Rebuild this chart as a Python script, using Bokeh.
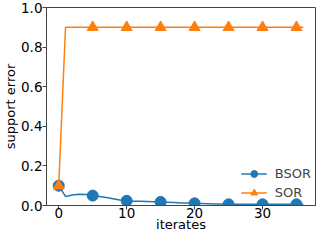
from bokeh.plotting import figure
from bokeh.models import FixedTicker, PrintfTickFormatter, Range1d, Legend, LegendItem
from bokeh.embed import file_html
from bokeh.resources import INLINE

iterates = list(range(37))
bsor = [0.100, 0.046, 0.053, 0.057, 0.055, 0.050, 0.045, 0.040, 0.034, 0.028,
        0.024, 0.022, 0.021, 0.020, 0.019, 0.018, 0.017, 0.015, 0.013, 0.012,
        0.011, 0.010, 0.009, 0.008, 0.007, 0.006, 0.006, 0.006, 0.006, 0.006,
        0.006, 0.006, 0.006, 0.006, 0.006, 0.006, 0.006]
sor = [0.1] + [0.9] * 36
x_ticks = [0, 10, 20, 30]
y_ticks = [0.0, 0.2, 0.4, 0.6, 0.8, 1.0]

BLUE = "#1f77b4"
ORANGE = "#ff7f0e"
FONT = "DejaVu Sans"

p = figure(width=316, height=234, output_backend="svg", toolbar_location=None,
           x_range=Range1d(-1.8, 37.8), y_range=Range1d(0, 1.0),
           min_border_top=7, min_border_right=1, min_border_left=0, min_border_bottom=0)

p.grid.visible = False
p.outline_line_color = "#444444"
p.outline_line_width = 1

for ax in (p.xaxis[0], p.yaxis[0]):
    ax.axis_line_color = "#444444"
    ax.major_tick_line_color = "#444444"
    ax.major_tick_out = 4
    ax.major_tick_in = 0
    ax.minor_tick_line_color = None
    ax.major_label_text_font = FONT
    ax.major_label_text_font_size = "13.5px"
    ax.major_label_text_color = "black"
    ax.axis_label_text_font = FONT
    ax.axis_label_text_font_size = "13px"
    ax.axis_label_text_font_style = "normal"
    ax.axis_label_text_color = "black"
    ax.major_label_standoff = 0
    ax.axis_label_standoff = 0

p.xaxis[0].major_label_standoff = -2
p.xaxis[0].axis_label_standoff = -4

p.xaxis[0].ticker = FixedTicker(ticks=x_ticks)
p.yaxis[0].ticker = FixedTicker(ticks=y_ticks)
p.yaxis[0].formatter = PrintfTickFormatter(format="%.1f")
p.xaxis[0].axis_label = "iterates"
p.yaxis[0].axis_label = "support error"

mx = iterates[::5]
l1 = p.line(iterates, bsor, line_color=BLUE, line_width=1.5)
s1 = p.scatter(mx, bsor[::5], marker="circle", size=11, fill_color=BLUE, line_color=BLUE)
l2 = p.line(iterates, sor, line_color=ORANGE, line_width=1.5)
s2 = p.scatter(mx, sor[::5], marker="triangle", size=11, fill_color=ORANGE, line_color=ORANGE)

legend = Legend(items=[LegendItem(label="BSOR", renderers=[l1, s1]),
                       LegendItem(label="SOR", renderers=[l2, s2])],
                location="bottom_right", border_line_alpha=0, background_fill_alpha=0,
                label_text_font=FONT, label_text_font_size="13px",
                glyph_width=26, glyph_height=17, label_height=17, spacing=2,
                margin=4, padding=0, label_standoff=8)
p.add_layout(legend)

open("out.html", "w").write(file_html(p, INLINE))
